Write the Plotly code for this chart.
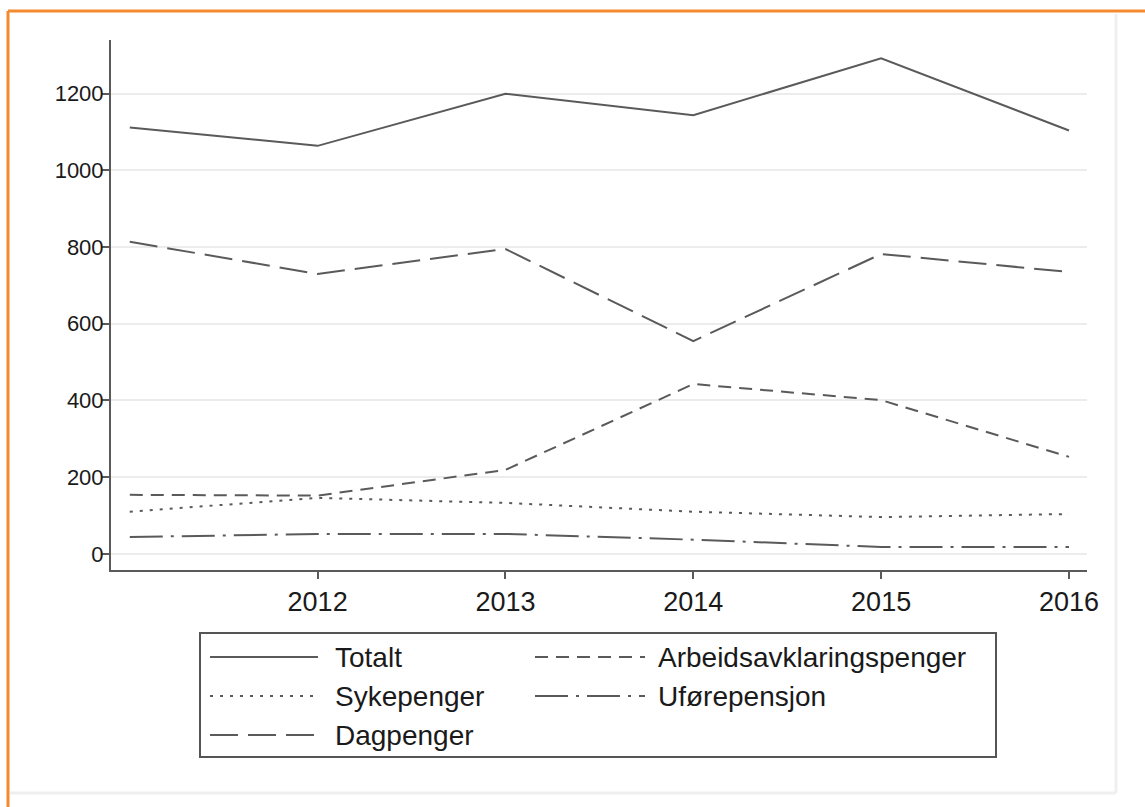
import plotly.graph_objects as go

years = [2011, 2012, 2013, 2014, 2015, 2016]
totalt = [1112, 1064, 1200, 1144, 1292, 1104]
arbeidsavklaringspenger = [154, 152, 219, 443, 401, 253]
sykepenger = [110, 146, 133, 110, 96, 104]
uforepensjon = [44, 52, 52, 37, 18, 18]
dagpenger = [814, 730, 795, 555, 782, 735]

names = ["Totalt", "Arbeidsavklaringspenger", "Sykepenger", "Uførepensjon", "Dagpenger"]
values = [totalt, arbeidsavklaringspenger, sykepenger, uforepensjon, dagpenger]
dashes = ["solid", "13px,8px", "3px,7px", "33px,8px,3px,8px", "28px,10px"]

x_ticks = [2012, 2013, 2014, 2015, 2016]
y_ticks = [0, 200, 400, 600, 800, 1000, 1200]

W, H = 1145, 807
L, R, T, B = 111, 1087, 40, 570
LINE = "#5a5a5a"
TEXT = "#1a1a1a"
FONT = "Liberation Sans, Arial, sans-serif"


def px(x):
    return (x - L) / (R - L)


def py(y):
    return (B - y) / (B - T)


fig = go.Figure()
for name, vals, dash in zip(names, values, dashes):
    fig.add_trace(go.Scatter(x=years, y=vals, mode="lines", name=name,
                             line=dict(color=LINE, width=2, dash=dash),
                             showlegend=False))

shapes = []
annotations = []
# custom legend (two columns, row-major)
rows_y = [657, 696, 735]
cols = [(210, 318, 333), (535, 645, 656)]
for i, (name, dash) in enumerate(zip(names, dashes)):
    r, c = i // 2, i % 2
    x0, x1, xt = cols[c]
    yy = rows_y[r]
    shapes.append(dict(type="line", xref="paper", yref="paper",
                       x0=px(x0), x1=px(x1), y0=py(yy), y1=py(yy),
                       line=dict(color=LINE, width=2, dash=dash)))
    annotations.append(dict(xref="paper", yref="paper", x=px(xt), y=py(yy),
                            text=name, showarrow=False, xanchor="left",
                            yanchor="middle",
                            font=dict(size=28, color=TEXT, family=FONT)))
shapes.append(dict(type="rect", xref="paper", yref="paper",
                   x0=px(200), x1=px(996), y0=py(757), y1=py(633),
                   line=dict(color="#555", width=2), layer="above"))
# outer frame: orange top/left, faint gray right/bottom
shapes.append(dict(type="line", xref="paper", yref="paper",
                   x0=px(8), x1=px(1145), y0=py(11), y1=py(11),
                   line=dict(color="#F5892F", width=3)))
shapes.append(dict(type="line", xref="paper", yref="paper",
                   x0=px(8), x1=px(8), y0=py(11), y1=py(807),
                   line=dict(color="#F5892F", width=3)))
shapes.append(dict(type="line", xref="paper", yref="paper",
                   x0=px(1116), x1=px(1116), y0=py(14), y1=py(793),
                   line=dict(color="#efefef", width=3)))
shapes.append(dict(type="line", xref="paper", yref="paper",
                   x0=px(10), x1=px(1116), y0=py(793), y1=py(793),
                   line=dict(color="#efefef", width=3)))

fig.update_layout(
    width=W, height=H,
    margin=dict(l=L, r=W - R, t=T, b=H - B),
    paper_bgcolor="white", plot_bgcolor="white",
    font=dict(family=FONT, color=TEXT),
    shapes=shapes, annotations=annotations,
    showlegend=False,
)
fig.update_xaxes(range=[2010.9, 2016.096], tickvals=x_ticks,
                 ticktext=[str(v) for v in x_ticks],
                 ticks="outside", ticklen=7, tickwidth=2, tickcolor=LINE,
                 showline=True, linecolor=LINE, linewidth=2,
                 showgrid=False, zeroline=False,
                 tickfont=dict(size=27, color=TEXT, family=FONT))
fig.update_yaxes(range=[-42, 1340], tickvals=y_ticks,
                 ticks="outside", ticklen=7, tickwidth=2, tickcolor=LINE,
                 showline=True, linecolor=LINE, linewidth=2,
                 showgrid=True, gridcolor="#ececec", gridwidth=1.5,
                 zeroline=False, ticklabelstandoff=-6,
                 tickfont=dict(size=22, color=TEXT, family=FONT))

fig.write_html("out.html", config={"displayModeBar": False},
               post_script="document.body.style.margin='0';document.body.style.overflow='hidden';")
